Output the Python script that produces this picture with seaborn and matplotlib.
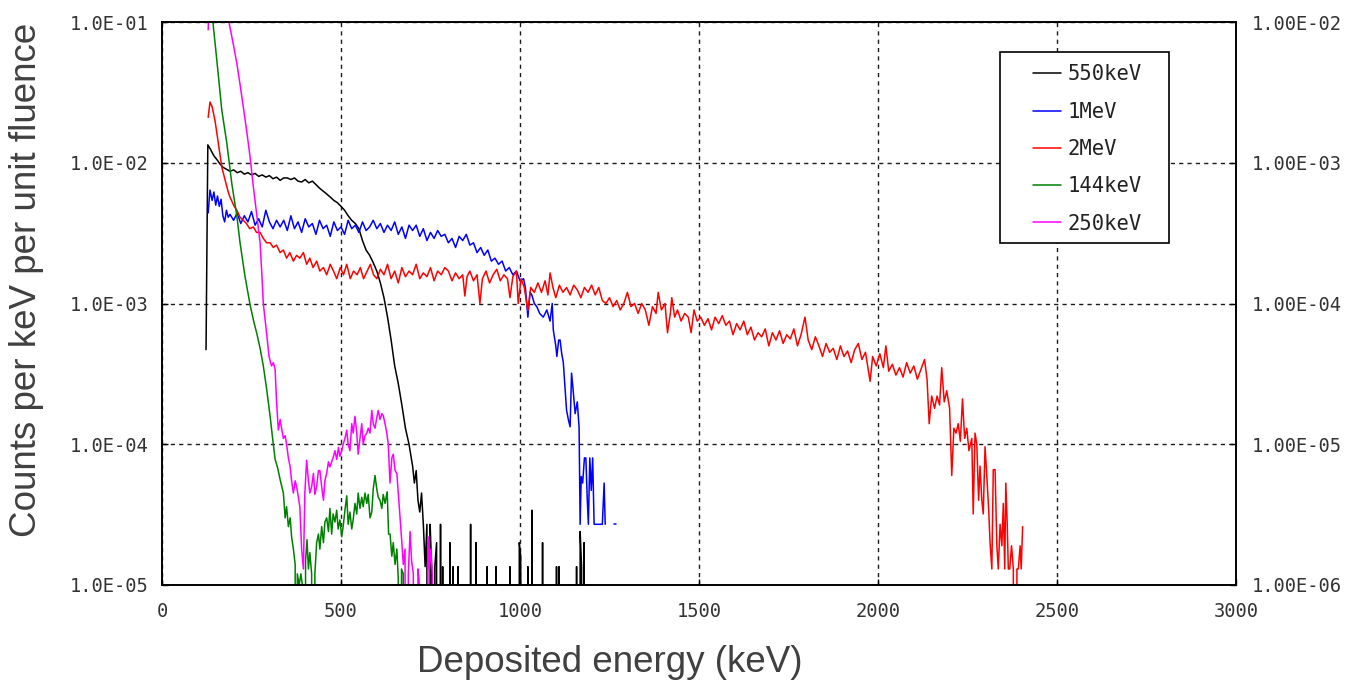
import numpy as np
import pandas as pd
import matplotlib
matplotlib.use("Agg")
import matplotlib.pyplot as plt
import seaborn as sns
from matplotlib.ticker import FixedLocator, FixedFormatter, NullLocator
from matplotlib.patches import Rectangle

# ---- data (energy in keV, counts per keV per unit fluence) ----
e_550 = [123, 128, 135, 145, 155, 162, 170, 180, 190, 200,
         210, 220, 230, 240, 250, 260, 270, 280, 290, 300,
         310, 320, 330, 340, 350, 360, 370, 380, 390, 400,
         410, 420, 430, 440, 450, 460, 470, 480, 490, 500,
         510, 520, 530, 540, 550, 560, 570, 580, 590, 600,
         610, 620, 630, 640, 650, 660, 670, 680, 690, 700,
         705, 710, 715, 720, 725, 730, 735, 740, 745, 749,
         753, 758, 762, 767, 771, 775, 778, 781, 784, 788,
         795, 800, 804, 808, 813, 817, 822, 827, 832, 857,
         862, 867, 872, 877, 882, 903, 908, 913, 928, 933,
         938, 967, 972, 977, 994, 998, 1002, 1006, 1017, 1022,
         1027, 1030, 1033, 1037, 1058, 1063, 1068, 1097, 1102, 1106,
         1109, 1113, 1153, 1158, 1163, 1166, 1168, 1172, 1176, 1179,
         1183, 1186]
c_550 = [4.7e-4, 1.34e-2, 1.25e-2, 1.12e-2, 1.04e-2, 9.8e-3, 9.3e-3, 9.0e-3, 8.7e-3, 8.9e-3,
         8.5e-3, 8.7e-3, 8.3e-3, 8.5e-3, 8.2e-3, 8.4e-3, 8.0e-3, 8.2e-3, 7.9e-3, 8.1e-3,
         7.7e-3, 7.9e-3, 7.5e-3, 7.8e-3, 7.8e-3, 7.6e-3, 7.8e-3, 7.4e-3, 7.3e-3, 7.6e-3,
         7.2e-3, 7.4e-3, 7.0e-3, 6.6e-3, 6.3e-3, 6.0e-3, 5.7e-3, 5.4e-3, 5.2e-3, 4.9e-3,
         4.6e-3, 4.2e-3, 3.9e-3, 3.7e-3, 3.4e-3, 2.8e-3, 2.4e-3, 2.2e-3, 1.95e-3, 1.7e-3,
         1.4e-3, 1.1e-3, 8.0e-4, 5.5e-4, 3.6e-4, 2.7e-4, 1.9e-4, 1.3e-4, 1.0e-4, 7.0e-5,
         5.3e-5, 6.5e-5, 4.0e-5, 3.3e-5, 4.5e-5, 2.7e-5, 1.35e-5, 2.7e-5, 0, 2.7e-5,
         1.35e-5, 0, 1.35e-5, 2.0e-5, 0, 0, 2.7e-5, 0, 1.35e-5, 0,
         0, 0, 2.0e-5, 0, 1.35e-5, 0, 0, 1.35e-5, 0, 0,
         2.7e-5, 0, 0, 2.0e-5, 0, 0, 1.35e-5, 0, 0, 1.35e-5,
         0, 0, 1.35e-5, 0, 0, 2.0e-5, 1.6e-5, 0, 0, 1.35e-5,
         0, 0, 3.4e-5, 0, 0, 2.0e-5, 0, 0, 1.35e-5, 0,
         1.35e-5, 0, 0, 1.35e-5, 0, 0, 2.4e-5, 1.35e-5, 0, 2.0e-5,
         0, 0]

e_1mev = [129, 134, 140, 145, 150, 155, 160, 165, 170, 175,
          180, 185, 190, 200, 210, 220, 230, 240, 250, 260,
          270, 280, 290, 300, 310, 320, 330, 340, 350, 360,
          370, 380, 390, 400, 410, 420, 430, 440, 450, 460,
          470, 480, 490, 500, 510, 520, 530, 540, 550, 560,
          570, 580, 590, 600, 610, 620, 630, 640, 650, 660,
          670, 680, 690, 700, 710, 720, 730, 740, 750, 760,
          770, 780, 790, 800, 810, 820, 830, 840, 850, 860,
          870, 880, 890, 900, 910, 920, 930, 940, 950, 960,
          970, 980, 990, 1000, 1010, 1015, 1022, 1028, 1033, 1040,
          1047, 1055, 1065, 1075, 1084, 1090, 1093, 1100, 1103, 1108,
          1112, 1116, 1121, 1126, 1130, 1135, 1140, 1144, 1148, 1154,
          1160, 1165, 1168, 1171, 1175, 1180, 1184, 1188, 1191, 1195,
          1199, 1203, 1207, 1215, 1222, 1230, 1235, 1238]
c_1mev = [4.4e-3, 6.4e-3, 5.4e-3, 6.2e-3, 5.0e-3, 5.8e-3, 4.9e-3, 5.5e-3, 4.2e-3, 3.8e-3,
          4.6e-3, 4.1e-3, 4.3e-3, 3.9e-3, 4.4e-3, 3.7e-3, 4.2e-3, 3.8e-3, 4.5e-3, 3.6e-3,
          4.0e-3, 3.5e-3, 4.6e-3, 3.8e-3, 3.4e-3, 3.9e-3, 3.5e-3, 3.9e-3, 3.3e-3, 4.2e-3,
          3.4e-3, 3.8e-3, 3.2e-3, 4.0e-3, 3.5e-3, 3.7e-3, 3.1e-3, 3.9e-3, 3.4e-3, 3.6e-3,
          3.0e-3, 3.8e-3, 3.3e-3, 3.5e-3, 3.1e-3, 3.9e-3, 3.4e-3, 3.6e-3, 3.2e-3, 3.8e-3,
          3.3e-3, 3.5e-3, 3.9e-3, 3.4e-3, 3.7e-3, 3.2e-3, 3.6e-3, 3.3e-3, 3.8e-3, 3.1e-3,
          3.5e-3, 2.9e-3, 3.6e-3, 3.3e-3, 3.6e-3, 3.0e-3, 3.4e-3, 2.8e-3, 3.2e-3, 2.9e-3,
          3.3e-3, 3.0e-3, 3.1e-3, 2.7e-3, 2.9e-3, 2.5e-3, 3.0e-3, 2.8e-3, 3.1e-3, 2.6e-3,
          2.7e-3, 2.3e-3, 2.5e-3, 2.2e-3, 2.4e-3, 2.0e-3, 2.1e-3, 1.9e-3, 2.0e-3, 1.7e-3,
          1.8e-3, 1.6e-3, 1.7e-3, 1.45e-3, 1.5e-3, 1.3e-3, 8.0e-4, 1.2e-3, 1.15e-3, 1.0e-3,
          9.5e-4, 8.5e-4, 8.0e-4, 9.0e-4, 7.5e-4, 1.0e-3, 6.5e-4, 5.0e-4, 4.2e-4, 5.5e-4,
          5.5e-4, 4.5e-4, 3.8e-4, 2.5e-4, 1.75e-4, 1.5e-4, 1.33e-4, 3.2e-4, 2.5e-4, 1.65e-4,
          2.0e-4, 1.33e-4, 2.7e-5, 5.9e-5, 5.3e-5, 8.0e-5, 8.0e-5, 4.0e-5, 2.7e-5, 8.0e-5,
          4.7e-5, 8.0e-5, 2.7e-5, 2.7e-5, 2.7e-5, 2.7e-5, 5.3e-5, 2.7e-5]
e_1mev_dot = [1263, 1267]
c_1mev_dot = [2.7e-5, 2.7e-5]

e_2mev = [129, 134, 140, 148, 157, 167, 176, 185, 190, 200,
          209, 218, 227, 236, 245, 255, 264, 274, 283, 292,
          302, 311, 320, 330, 339, 348, 357, 367, 376, 385,
          395, 404, 413, 422, 432, 441, 451, 460, 470, 479,
          488, 498, 507, 516, 526, 535, 545, 554, 563, 573,
          582, 591, 600, 610, 620, 630, 640, 650, 660, 670,
          680, 690, 700, 710, 720, 730, 740, 750, 760, 770,
          780, 790, 800, 810, 820, 830, 840, 846, 852, 860,
          870, 880, 888, 895, 905, 915, 925, 935, 945, 955,
          965, 972, 980, 990, 995, 1003, 1012, 1022, 1030, 1040,
          1050, 1060, 1070, 1078, 1084, 1092, 1100, 1110, 1120, 1130,
          1140, 1150, 1160, 1170, 1180, 1190, 1200, 1210, 1220, 1230,
          1240, 1250, 1260, 1270, 1280, 1290, 1300, 1310, 1320, 1330,
          1340, 1350, 1360, 1370, 1380, 1386, 1395, 1405, 1412, 1420,
          1424, 1432, 1440, 1450, 1460, 1470, 1478, 1486, 1495, 1505,
          1515, 1525, 1535, 1545, 1555, 1565, 1575, 1585, 1595, 1605,
          1615, 1625, 1635, 1645, 1655, 1665, 1675, 1685, 1695, 1705,
          1715, 1725, 1735, 1745, 1755, 1765, 1775, 1785, 1796, 1805,
          1815, 1825, 1835, 1845, 1855, 1865, 1875, 1885, 1895, 1905,
          1915, 1925, 1935, 1945, 1955, 1965, 1978, 1985, 1995, 2005,
          2015, 2022, 2030, 2040, 2050, 2060, 2070, 2080, 2090, 2100,
          2110, 2120, 2130, 2137, 2143, 2150, 2158, 2165, 2172, 2178,
          2185, 2192, 2200, 2206, 2212, 2218, 2224, 2230, 2236, 2242,
          2248, 2254, 2262, 2266, 2271, 2276, 2281, 2285, 2290, 2294,
          2299, 2304, 2309, 2313, 2318, 2322, 2327, 2332, 2336, 2341,
          2346, 2350, 2354, 2357, 2361, 2364, 2368, 2373, 2378, 2383,
          2388, 2392, 2397, 2400, 2404]
c_2mev = [2.1e-2, 2.7e-2, 2.5e-2, 2.0e-2, 1.4e-2, 9.3e-3, 7.6e-3, 6.2e-3, 5.7e-3, 5.0e-3,
          4.6e-3, 4.1e-3, 3.9e-3, 3.7e-3, 3.4e-3, 3.5e-3, 3.2e-3, 3.2e-3, 2.9e-3, 2.7e-3,
          2.7e-3, 2.5e-3, 2.6e-3, 2.3e-3, 2.4e-3, 2.1e-3, 2.3e-3, 2.0e-3, 2.2e-3, 2.1e-3,
          2.3e-3, 1.9e-3, 2.1e-3, 1.8e-3, 2.0e-3, 1.7e-3, 1.8e-3, 1.6e-3, 1.9e-3, 1.7e-3,
          1.5e-3, 1.8e-3, 1.6e-3, 1.9e-3, 1.5e-3, 1.7e-3, 1.6e-3, 1.8e-3, 1.5e-3, 1.7e-3,
          1.9e-3, 1.6e-3, 1.5e-3, 1.75e-3, 1.6e-3, 1.9e-3, 1.5e-3, 1.7e-3, 1.4e-3, 1.8e-3,
          1.55e-3, 1.7e-3, 1.6e-3, 1.9e-3, 1.5e-3, 1.65e-3, 1.55e-3, 1.8e-3, 1.45e-3, 1.7e-3,
          1.6e-3, 1.8e-3, 1.7e-3, 1.45e-3, 1.65e-3, 1.5e-3, 1.6e-3, 1.13e-3, 1.55e-3, 1.7e-3,
          1.45e-3, 1.6e-3, 1.0e-3, 1.5e-3, 1.7e-3, 1.4e-3, 1.6e-3, 1.75e-3, 1.45e-3, 1.6e-3,
          1.5e-3, 1.1e-3, 1.55e-3, 1.7e-3, 1.0e-3, 1.5e-3, 1.3e-3, 8.9e-4, 1.3e-3, 1.2e-3,
          1.4e-3, 1.2e-3, 1.45e-3, 1.15e-3, 1.65e-3, 1.3e-3, 1.1e-3, 1.35e-3, 1.2e-3, 1.3e-3,
          1.15e-3, 1.35e-3, 1.25e-3, 1.1e-3, 1.3e-3, 1.2e-3, 1.35e-3, 1.15e-3, 1.3e-3, 1.05e-3,
          1.0e-3, 1.1e-3, 9.5e-4, 1.05e-3, 9.0e-4, 1.0e-3, 1.2e-3, 9.5e-4, 1.0e-3, 8.5e-4,
          1.0e-3, 9.0e-4, 7.0e-4, 9.5e-4, 8.5e-4, 1.2e-3, 9.0e-4, 1.0e-3, 6.2e-4, 8.5e-4,
          1.1e-3, 8.0e-4, 9.0e-4, 7.5e-4, 8.5e-4, 8.0e-4, 6.2e-4, 9.0e-4, 7.5e-4, 8.0e-4,
          7.0e-4, 7.8e-4, 6.5e-4, 8.0e-4, 7.2e-4, 8.2e-4, 7.0e-4, 7.5e-4, 6.0e-4, 7.2e-4,
          6.5e-4, 7.5e-4, 6.0e-4, 6.8e-4, 5.5e-4, 6.2e-4, 5.8e-4, 6.6e-4, 5.0e-4, 6.2e-4,
          5.5e-4, 6.4e-4, 5.2e-4, 6.0e-4, 5.6e-4, 6.6e-4, 5.0e-4, 6.0e-4, 8.0e-4, 5.5e-4,
          4.7e-4, 5.8e-4, 5.0e-4, 4.2e-4, 5.2e-4, 4.5e-4, 4.8e-4, 4.0e-4, 5.0e-4, 4.2e-4,
          4.6e-4, 3.8e-4, 4.7e-4, 5.2e-4, 4.0e-4, 4.5e-4, 2.8e-4, 4.2e-4, 3.6e-4, 4.4e-4,
          3.5e-4, 5.0e-4, 3.3e-4, 3.7e-4, 3.1e-4, 3.5e-4, 3.0e-4, 3.8e-4, 3.2e-4, 3.6e-4,
          2.9e-4, 3.4e-4, 4.0e-4, 2.9e-4, 1.4e-4, 2.2e-4, 1.8e-4, 2.2e-4, 1.9e-4, 3.5e-4,
          2.0e-4, 2.4e-4, 1.8e-4, 6.0e-5, 1.3e-4, 1.2e-4, 1.4e-4, 1.05e-4, 2.1e-4, 1.1e-4,
          1.3e-4, 9.0e-5, 1.1e-4, 3.2e-5, 1.2e-4, 1.0e-4, 4.0e-5, 7.0e-5, 4.0e-5, 3.2e-5,
          9.6e-5, 5.9e-5, 3.5e-5, 2.0e-5, 1.3e-5, 6.6e-5, 6.6e-5, 1.9e-5, 1.3e-5, 2.7e-5,
          1.9e-5, 3.8e-5, 1.3e-5, 5.3e-5, 2.7e-5, 1.3e-5, 1.3e-5, 1.9e-5, 1.3e-5, 0,
          1.3e-5, 1.3e-5, 1.9e-5, 1.3e-5, 2.6e-5]

e_144 = [135, 153, 167, 181, 195, 209, 218, 232, 246, 256,
         265, 274, 283, 292, 302, 309, 316, 323, 330, 339,
         344, 348, 353, 358, 362, 367, 372, 374, 378, 383,
         388, 392, 396, 401, 405, 409, 413, 418, 423, 427,
         432, 437, 441, 446, 451, 455, 460, 465, 469, 474,
         478, 483, 488, 492, 497, 502, 506, 511, 516, 520,
         525, 530, 534, 539, 544, 548, 553, 558, 562, 567,
         572, 576, 581, 586, 590, 595, 600, 604, 609, 614,
         618, 623, 629, 633, 637, 642, 646, 651, 656, 660,
         665, 669, 674, 678]
c_144 = [1.5e-1, 5.4e-2, 2.37e-2, 1.38e-2, 7.1e-3, 4.2e-3, 2.7e-3, 1.55e-3, 9.8e-4, 7.5e-4,
         6.1e-4, 4.8e-4, 3.6e-4, 2.5e-4, 1.58e-4, 1.1e-4, 7.8e-5, 6.8e-5, 5.6e-5, 4.5e-5,
         3.0e-5, 3.6e-5, 2.6e-5, 3.0e-5, 2.2e-5, 1.8e-5, 1.4e-5, 0, 1.2e-5, 1.0e-5,
         1.2e-5, 1.0e-5, 0, 1.5e-5, 2.1e-5, 1.3e-5, 1.7e-5, 1.2e-5, 0, 1.2e-5,
         2.0e-5, 2.3e-5, 1.8e-5, 2.6e-5, 2.0e-5, 2.8e-5, 3.0e-5, 2.4e-5, 3.5e-5, 2.3e-5,
         3.2e-5, 2.8e-5, 3.4e-5, 2.5e-5, 2.9e-5, 2.2e-5, 2.6e-5, 3.4e-5, 4.3e-5, 2.7e-5,
         3.3e-5, 2.5e-5, 2.9e-5, 3.8e-5, 3.2e-5, 4.5e-5, 3.5e-5, 4.2e-5, 3.6e-5, 4.5e-5,
         3.8e-5, 4.4e-5, 3.0e-5, 3.3e-5, 4.8e-5, 6.0e-5, 4.8e-5, 4.2e-5, 4.0e-5, 3.5e-5,
         4.4e-5, 3.8e-5, 4.6e-5, 2.3e-5, 2.3e-5, 1.6e-5, 2.0e-5, 1.4e-5, 1.8e-5, 1.1e-5,
         0, 1.3e-5, 1.2e-5, 0]

e_250 = [129, 134, 150, 170, 187, 198, 209, 218, 227, 237,
         246, 255, 265, 274, 279, 283, 292, 299, 306, 311,
         316, 320, 325, 330, 334, 339, 344, 348, 353, 358,
         362, 367, 372, 376, 381, 385, 390, 395, 399, 404,
         409, 413, 418, 423, 427, 432, 437, 441, 446, 451,
         455, 460, 465, 469, 474, 479, 483, 488, 493, 497,
         502, 506, 511, 516, 520, 525, 530, 534, 539, 544,
         548, 553, 558, 562, 567, 572, 576, 581, 586, 590,
         595, 600, 604, 609, 614, 618, 623, 628, 632, 637,
         642, 646, 651, 656, 660, 665, 670, 674, 679, 684,
         688, 693, 697, 702, 707, 711, 715, 718, 722, 740,
         743, 747, 751, 755, 757]
c_250 = [8.8e-2, 2.0e-1, 3.0e-1, 2.0e-1, 1.0e-1, 7.2e-2, 5.1e-2, 3.6e-2, 2.5e-2, 1.65e-2,
         1.1e-2, 6.8e-3, 4.2e-3, 2.7e-3, 1.6e-3, 1.0e-3, 6.2e-4, 4.2e-4, 3.6e-4, 3.8e-4,
         3.4e-4, 2.0e-4, 1.26e-4, 1.5e-4, 1.3e-4, 1.1e-4, 1.15e-4, 1.0e-4, 8.0e-5, 6.9e-5,
         5.5e-5, 4.5e-5, 5.5e-5, 5.0e-5, 4.2e-5, 3.6e-5, 1.8e-5, 1.3e-5, 4.5e-5, 7.7e-5,
         5.5e-5, 4.5e-5, 5.0e-5, 6.2e-5, 4.4e-5, 5.0e-5, 6.5e-5, 6.5e-5, 5.0e-5, 4.0e-5,
         5.5e-5, 6.2e-5, 7.5e-5, 6.9e-5, 7.5e-5, 8.2e-5, 9.0e-5, 7.8e-5, 9.5e-5, 8.2e-5,
         9.0e-5, 1.0e-4, 1.1e-4, 1.26e-4, 1.0e-4, 9.0e-5, 1.4e-4, 1.2e-4, 1.58e-4, 1.2e-4,
         8.5e-5, 1.1e-4, 1.4e-4, 1.0e-4, 1.15e-4, 1.2e-4, 1.3e-4, 1.2e-4, 1.74e-4, 1.4e-4,
         1.3e-4, 1.55e-4, 1.74e-4, 1.5e-4, 1.65e-4, 1.6e-4, 1.4e-4, 1.2e-4, 1.0e-4, 5.3e-5,
         8.0e-5, 8.5e-5, 6.5e-5, 6.2e-5, 4.5e-5, 3.0e-5, 2.0e-5, 1.4e-5, 1.8e-5, 0,
         1.2e-5, 2.4e-5, 1.5e-5, 1.2e-5, 0, 0, 1.3e-5, 1.1e-5, 0, 0,
         2.2e-5, 1.3e-5, 1.8e-5, 1.2e-5, 0]

series_names = ["550keV", "1MeV", "2MeV", "144keV", "250keV"]
series_colors = ["#000000", "#0000ff", "#ff0000", "#008000", "#ff00ff"]

x_ticks = [0, 500, 1000, 1500, 2000, 2500, 3000]
left_ticks = [1e-5, 1e-4, 1e-3, 1e-2, 1e-1]
left_labels = ["1.0E-05", "1.0E-04", "1.0E-03", "1.0E-02", "1.0E-01"]
right_ticks = [1e-6, 1e-5, 1e-4, 1e-3, 1e-2]
right_labels = ["1.00E-06", "1.00E-05", "1.00E-04", "1.00E-03", "1.00E-02"]


def main():
    sns.set_theme(style="white")
    plt.rcParams['font.family'] = ['DejaVu Sans']
    mono = ['DejaVu Sans Mono', 'DejaVu Sans']
    sans = ['Liberation Sans', 'DejaVu Sans']

    fig = plt.figure(figsize=(13.45, 6.84), dpi=100)
    ax = fig.add_axes([162 / 1345, 99 / 684, 1074 / 1345, 563 / 684])

    data = [(e_550, c_550), (e_1mev, c_1mev), (e_2mev, c_2mev), (e_144, c_144), (e_250, c_250)]
    for (e, c), name, col in zip(data, series_names, series_colors):
        df = pd.DataFrame({'energy': e, 'counts': c})
        sns.lineplot(data=df, x='energy', y='counts', ax=ax, color=col, lw=1.1,
                     label=name, estimator=None, sort=False)
    dot = pd.DataFrame({'energy': e_1mev_dot, 'counts': c_1mev_dot})
    sns.lineplot(data=dot, x='energy', y='counts', ax=ax, color=series_colors[1], lw=1.1,
                 estimator=None, sort=False, legend=False)

    ax.set_yscale('log')
    ax.set_xlim(0, 3000)
    ax.set_ylim(1e-5, 1e-1)
    ax.set_xlabel('')
    ax.set_ylabel('')
    ax.xaxis.set_major_locator(FixedLocator(x_ticks))
    ax.xaxis.set_major_formatter(FixedFormatter([str(t) for t in x_ticks]))
    ax.yaxis.set_major_locator(FixedLocator(left_ticks))
    ax.yaxis.set_major_formatter(FixedFormatter(left_labels))
    ax.yaxis.set_minor_locator(NullLocator())
    ax.grid(True, which='major', color='#1a1a1a', ls=(0, (3, 3)), lw=1.0)
    ax.tick_params(axis='both', direction='in', length=4, width=1.0, color='black',
                   labelcolor='#333333', left=True, bottom=True)
    ax.tick_params(axis='y', pad=10)
    ax.tick_params(axis='x', pad=12)
    for lab in ax.get_xticklabels() + ax.get_yticklabels():
        lab.set_family(mono)
        lab.set_fontsize(13.5)
    for sp in ax.spines.values():
        sp.set_color('black')
        sp.set_linewidth(1.2)

    ax2 = ax.twinx()
    ax2.set_yscale('log')
    ax2.set_ylim(1e-6, 1e-2)
    ax2.yaxis.set_major_locator(FixedLocator(right_ticks))
    ax2.yaxis.set_major_formatter(FixedFormatter(right_labels))
    ax2.yaxis.set_minor_locator(NullLocator())
    ax2.grid(False)
    ax2.tick_params(axis='y', direction='in', length=4, width=1.0, color='black',
                    labelcolor='#333333', right=True, pad=11)
    for lab in ax2.get_yticklabels():
        lab.set_family(mono)
        lab.set_fontsize(13.5)
    for sp in ax2.spines.values():
        sp.set_color('black')
        sp.set_linewidth(1.2)

    # legend box drawn at its place, entries placed inside
    ax.add_patch(Rectangle((0.780, 0.6075), 0.1576, 0.339, transform=ax.transAxes,
                           facecolor='white', edgecolor='black', lw=1.2, zorder=5))
    handles, labels = ax.get_legend_handles_labels()
    leg = ax.legend(handles, labels, loc='upper left', bbox_to_anchor=(0.811, 0.9246),
                    frameon=False, borderpad=0, borderaxespad=0, handlelength=1.35,
                    handletextpad=0.35, labelspacing=0.84,
                    prop={'family': mono, 'size': 14.8})
    leg.set_zorder(6)
    for t in leg.get_texts():
        t.set_color('#222222')

    fig.text(27 / 1345, 1 - 280 / 684, 'Counts per keV per unit fluence', rotation=90,
             ha='center', va='center', fontsize=26.5, color='#404040', family=sans)
    fig.text(610 / 1345, 1 - 662 / 684, 'Deposited energy (keV)', ha='center', va='center',
             fontsize=26.5, color='#404040', family=sans)

    fig.savefig('out.png', dpi=100)


if __name__ == "__main__":
    main()
